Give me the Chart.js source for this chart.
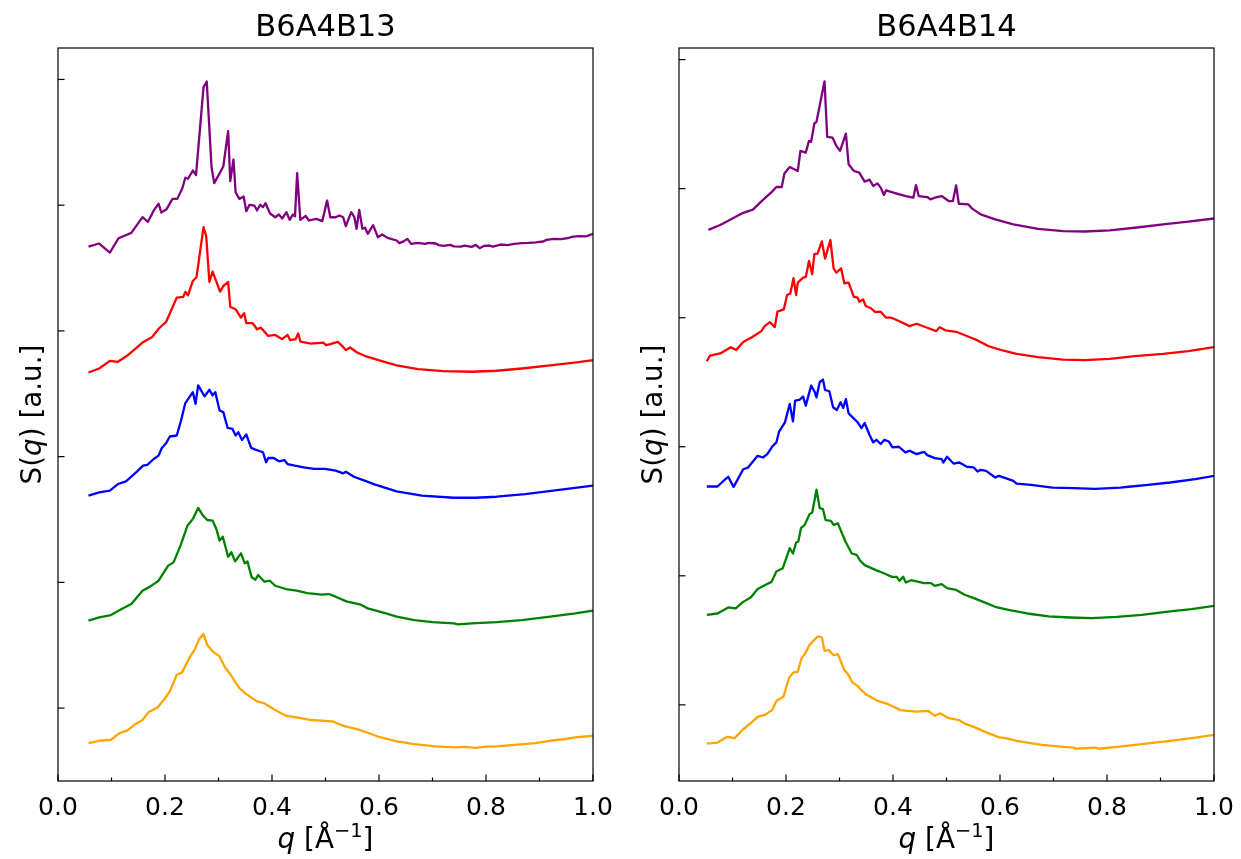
<!DOCTYPE html>
<html>
<head>
<meta charset="utf-8">
<title>S(q) – B6A4B13 / B6A4B14</title>
<script src="https://cdn.jsdelivr.net/npm/chart.js@4.4.1/dist/chart.umd.min.js"></script>
<style>
  html, body { margin: 0; padding: 0; background: #fff; }
  #wrap { position: relative; width: 1241px; height: 859px; overflow: hidden; }
  #wrap canvas { position: absolute; top: 0; }
  #left { left: 0; }
  #right { left: 620px; }
</style>
</head>
<body>
<div id="wrap">
  <canvas id="left" width="620" height="859"></canvas>
  <canvas id="right" width="621" height="859"></canvas>
</div>
<script>
// Stacked S(q) curves, each shifted up by one unit: [q, S(q) + offset]
// ---- B6A4B13 ----
const b13Orange = [[0.057,-0.279],[0.077,-0.260],[0.099,-0.252],[0.115,-0.199],[0.129,-0.180],[0.142,-0.135],[0.158,-0.095],[0.169,-0.034],[0.186,0.005],[0.199,0.072],[0.209,0.133],[0.222,0.265],[0.232,0.284],[0.246,0.403],[0.256,0.469],[0.264,0.549],[0.272,0.589],[0.279,0.501],[0.289,0.451],[0.302,0.411],[0.312,0.324],[0.322,0.271],[0.329,0.223],[0.339,0.159],[0.352,0.111],[0.372,0.053],[0.386,0.037],[0.406,-0.016],[0.426,-0.061],[0.446,-0.074],[0.473,-0.095],[0.513,-0.106],[0.533,-0.141],[0.559,-0.167],[0.579,-0.196],[0.599,-0.228],[0.633,-0.265],[0.666,-0.286],[0.706,-0.305],[0.740,-0.313],[0.760,-0.309],[0.780,-0.316],[0.800,-0.307],[0.820,-0.305],[0.853,-0.292],[0.893,-0.279],[0.920,-0.260],[0.945,-0.248],[0.967,-0.233],[1.0,-0.220]];
const b13Green = [[0.057,0.695],[0.077,0.721],[0.099,0.740],[0.119,0.788],[0.137,0.828],[0.158,0.934],[0.172,0.966],[0.188,1.013],[0.206,1.133],[0.216,1.159],[0.229,1.292],[0.242,1.451],[0.252,1.504],[0.262,1.592],[0.271,1.531],[0.279,1.496],[0.289,1.491],[0.296,1.424],[0.302,1.332],[0.308,1.363],[0.318,1.204],[0.324,1.239],[0.331,1.167],[0.342,1.231],[0.349,1.151],[0.354,1.167],[0.362,1.040],[0.369,1.021],[0.374,1.058],[0.386,1.005],[0.396,1.013],[0.406,0.973],[0.426,0.947],[0.446,0.934],[0.466,0.915],[0.493,0.902],[0.506,0.907],[0.519,0.886],[0.539,0.849],[0.566,0.822],[0.579,0.793],[0.613,0.753],[0.633,0.727],[0.666,0.700],[0.700,0.684],[0.740,0.674],[0.748,0.665],[0.773,0.674],[0.820,0.684],[0.867,0.700],[0.920,0.727],[0.967,0.753],[1.0,0.775]];
const b13Blue = [[0.057,1.689],[0.077,1.715],[0.097,1.729],[0.112,1.782],[0.127,1.803],[0.146,1.875],[0.159,1.928],[0.167,1.934],[0.179,1.981],[0.188,2.008],[0.194,2.069],[0.202,2.106],[0.209,2.160],[0.222,2.168],[0.230,2.287],[0.238,2.426],[0.252,2.513],[0.257,2.420],[0.262,2.566],[0.274,2.479],[0.283,2.532],[0.289,2.487],[0.294,2.513],[0.302,2.367],[0.309,2.354],[0.317,2.229],[0.326,2.221],[0.332,2.168],[0.337,2.194],[0.344,2.133],[0.352,2.176],[0.361,2.069],[0.369,2.056],[0.383,2.035],[0.389,1.955],[0.393,1.989],[0.403,1.989],[0.413,1.963],[0.423,1.973],[0.429,1.941],[0.443,1.928],[0.459,1.915],[0.479,1.902],[0.499,1.902],[0.519,1.888],[0.533,1.867],[0.538,1.880],[0.553,1.840],[0.573,1.809],[0.593,1.777],[0.633,1.723],[0.680,1.689],[0.740,1.673],[0.780,1.673],[0.820,1.681],[0.873,1.702],[0.933,1.734],[1.0,1.769]];
const b13Red = [[0.057,2.669],[0.077,2.701],[0.097,2.762],[0.112,2.754],[0.129,2.802],[0.158,2.907],[0.176,2.952],[0.189,3.021],[0.202,3.071],[0.209,3.138],[0.222,3.265],[0.234,3.270],[0.238,3.310],[0.243,3.283],[0.252,3.397],[0.259,3.429],[0.272,3.825],[0.277,3.754],[0.283,3.389],[0.289,3.471],[0.303,3.312],[0.309,3.357],[0.318,3.389],[0.322,3.190],[0.332,3.172],[0.342,3.106],[0.348,3.140],[0.352,3.061],[0.364,3.061],[0.372,3.013],[0.379,3.026],[0.393,2.960],[0.406,2.968],[0.419,2.934],[0.429,2.968],[0.434,2.926],[0.444,2.934],[0.449,2.979],[0.453,2.915],[0.473,2.899],[0.496,2.907],[0.501,2.886],[0.509,2.894],[0.523,2.913],[0.533,2.873],[0.538,2.847],[0.546,2.868],[0.559,2.828],[0.573,2.802],[0.599,2.767],[0.633,2.725],[0.673,2.696],[0.720,2.680],[0.773,2.675],[0.820,2.683],[0.867,2.701],[0.920,2.725],[0.973,2.751],[1.0,2.767]];
const b13Purple = [[0.057,3.671],[0.077,3.695],[0.097,3.623],[0.113,3.737],[0.137,3.780],[0.158,3.905],[0.168,3.867],[0.179,3.958],[0.188,4.011],[0.193,3.942],[0.203,3.968],[0.214,4.050],[0.223,4.050],[0.232,4.130],[0.238,4.218],[0.243,4.210],[0.252,4.276],[0.258,4.239],[0.272,4.939],[0.278,4.984],[0.287,4.302],[0.292,4.175],[0.309,4.308],[0.318,4.589],[0.322,4.191],[0.328,4.363],[0.332,4.103],[0.339,4.050],[0.347,4.069],[0.352,3.952],[0.358,4.003],[0.367,3.997],[0.372,3.958],[0.378,4.003],[0.383,3.984],[0.388,4.016],[0.396,3.936],[0.406,3.904],[0.413,3.926],[0.419,3.894],[0.427,3.944],[0.433,3.883],[0.439,3.926],[0.443,3.910],[0.447,4.255],[0.453,3.883],[0.463,3.915],[0.469,3.878],[0.483,3.891],[0.494,3.873],[0.503,4.037],[0.509,3.904],[0.519,3.904],[0.526,3.918],[0.533,3.904],[0.538,3.833],[0.548,3.944],[0.554,3.904],[0.558,3.812],[0.563,3.963],[0.569,3.812],[0.574,3.820],[0.579,3.772],[0.589,3.841],[0.598,3.745],[0.606,3.767],[0.616,3.740],[0.633,3.719],[0.638,3.698],[0.646,3.712],[0.653,3.732],[0.660,3.692],[0.673,3.700],[0.686,3.692],[0.693,3.700],[0.706,3.695],[0.712,3.682],[0.720,3.676],[0.733,3.684],[0.740,3.672],[0.753,3.671],[0.760,3.679],[0.773,3.668],[0.781,3.684],[0.788,3.658],[0.796,3.676],[0.806,3.679],[0.813,3.671],[0.827,3.687],[0.840,3.682],[0.853,3.692],[0.867,3.698],[0.880,3.700],[0.893,3.704],[0.907,3.711],[0.913,3.724],[0.927,3.732],[0.940,3.730],[0.953,3.737],[0.960,3.748],[0.973,3.753],[0.987,3.752],[1.0,3.772]];

// ---- B6A4B14 ----
const b14Orange = [[0.052,-0.300],[0.072,-0.292],[0.090,-0.248],[0.104,-0.258],[0.120,-0.189],[0.134,-0.142],[0.147,-0.093],[0.160,-0.078],[0.174,-0.041],[0.182,0.031],[0.195,0.062],[0.206,0.212],[0.214,0.251],[0.222,0.256],[0.229,0.362],[0.236,0.398],[0.244,0.465],[0.254,0.509],[0.260,0.530],[0.267,0.522],[0.272,0.419],[0.280,0.424],[0.289,0.385],[0.297,0.393],[0.309,0.269],[0.316,0.238],[0.324,0.173],[0.334,0.147],[0.341,0.114],[0.349,0.083],[0.371,0.031],[0.388,0.010],[0.404,-0.021],[0.414,-0.041],[0.428,-0.047],[0.444,-0.052],[0.466,-0.047],[0.478,-0.085],[0.488,-0.065],[0.504,-0.103],[0.524,-0.119],[0.534,-0.145],[0.551,-0.171],[0.571,-0.207],[0.591,-0.240],[0.598,-0.252],[0.611,-0.258],[0.631,-0.279],[0.678,-0.310],[0.718,-0.326],[0.738,-0.331],[0.740,-0.340],[0.778,-0.331],[0.785,-0.340],[0.832,-0.320],[0.865,-0.305],[0.918,-0.279],[0.958,-0.258],[1.0,-0.233]];
const b14Green = [[0.052,0.698],[0.072,0.708],[0.092,0.755],[0.106,0.747],[0.120,0.798],[0.134,0.832],[0.147,0.897],[0.162,0.930],[0.173,0.953],[0.182,1.034],[0.194,1.059],[0.207,1.214],[0.213,1.173],[0.219,1.258],[0.223,1.266],[0.228,1.370],[0.235,1.395],[0.244,1.478],[0.249,1.491],[0.257,1.667],[0.263,1.525],[0.269,1.517],[0.274,1.432],[0.284,1.426],[0.289,1.395],[0.297,1.406],[0.311,1.266],[0.323,1.173],[0.332,1.163],[0.338,1.121],[0.347,1.083],[0.368,1.044],[0.384,1.018],[0.398,0.992],[0.407,0.992],[0.412,0.961],[0.419,0.992],[0.424,0.948],[0.434,0.966],[0.458,0.943],[0.471,0.943],[0.478,0.922],[0.491,0.935],[0.501,0.904],[0.518,0.891],[0.534,0.853],[0.551,0.827],[0.564,0.806],[0.591,0.760],[0.618,0.734],[0.651,0.708],[0.691,0.685],[0.731,0.677],[0.772,0.672],[0.818,0.682],[0.865,0.698],[0.918,0.724],[0.958,0.742],[1.0,0.767]];
const b14Blue = [[0.052,1.692],[0.072,1.692],[0.082,1.731],[0.092,1.767],[0.102,1.689],[0.110,1.749],[0.120,1.826],[0.129,1.839],[0.147,1.930],[0.157,1.917],[0.165,1.943],[0.174,2.000],[0.182,2.034],[0.187,2.117],[0.198,2.189],[0.207,2.332],[0.213,2.197],[0.217,2.358],[0.225,2.363],[0.232,2.389],[0.237,2.319],[0.247,2.474],[0.254,2.422],[0.257,2.383],[0.263,2.500],[0.269,2.521],[0.273,2.440],[0.281,2.430],[0.288,2.306],[0.295,2.285],[0.302,2.345],[0.307,2.301],[0.312,2.370],[0.317,2.259],[0.334,2.189],[0.341,2.145],[0.347,2.184],[0.356,2.093],[0.363,2.034],[0.369,2.054],[0.377,2.021],[0.384,2.054],[0.392,2.041],[0.399,1.995],[0.411,2.000],[0.423,1.956],[0.431,1.969],[0.444,1.943],[0.458,1.961],[0.464,1.935],[0.478,1.912],[0.491,1.904],[0.494,1.878],[0.501,1.922],[0.513,1.870],[0.524,1.878],[0.538,1.845],[0.551,1.840],[0.558,1.808],[0.564,1.821],[0.574,1.813],[0.591,1.762],[0.598,1.774],[0.625,1.736],[0.631,1.715],[0.658,1.705],[0.698,1.684],[0.738,1.679],[0.778,1.674],[0.825,1.684],[0.845,1.692],[0.872,1.702],[0.918,1.723],[0.965,1.749],[1.0,1.775]];
const b14Red = [[0.052,2.663],[0.058,2.707],[0.077,2.723],[0.097,2.772],[0.107,2.749],[0.120,2.811],[0.137,2.850],[0.154,2.896],[0.160,2.935],[0.170,2.966],[0.179,2.927],[0.184,3.047],[0.196,3.065],[0.202,3.176],[0.208,3.187],[0.214,3.306],[0.219,3.176],[0.222,3.272],[0.232,3.311],[0.237,3.316],[0.243,3.440],[0.249,3.337],[0.253,3.492],[0.259,3.497],[0.267,3.591],[0.273,3.458],[0.283,3.601],[0.289,3.383],[0.294,3.350],[0.303,3.383],[0.309,3.267],[0.317,3.272],[0.327,3.161],[0.334,3.155],[0.337,3.124],[0.344,3.142],[0.349,3.091],[0.359,3.073],[0.367,3.044],[0.377,3.047],[0.387,3.000],[0.397,3.000],[0.411,2.974],[0.431,2.935],[0.444,2.953],[0.464,2.922],[0.481,2.896],[0.487,2.927],[0.498,2.902],[0.518,2.891],[0.538,2.858],[0.558,2.824],[0.578,2.780],[0.605,2.746],[0.631,2.720],[0.671,2.694],[0.718,2.676],[0.758,2.671],[0.805,2.681],[0.852,2.702],[0.905,2.720],[0.952,2.741],[1.0,2.772]];
const b14Purple = [[0.055,3.681],[0.077,3.718],[0.100,3.769],[0.120,3.813],[0.138,3.837],[0.158,3.917],[0.174,3.977],[0.182,4.013],[0.192,4.013],[0.197,4.117],[0.207,4.168],[0.222,4.137],[0.227,4.293],[0.237,4.280],[0.243,4.370],[0.247,4.363],[0.253,4.505],[0.257,4.518],[0.272,4.832],[0.277,4.402],[0.287,4.396],[0.294,4.332],[0.301,4.293],[0.312,4.427],[0.317,4.189],[0.327,4.137],[0.337,4.124],[0.347,4.054],[0.356,4.070],[0.363,4.021],[0.371,4.041],[0.377,4.008],[0.383,3.951],[0.387,3.987],[0.404,3.966],[0.424,3.943],[0.438,3.930],[0.443,4.028],[0.448,3.943],[0.464,3.935],[0.470,3.917],[0.478,3.930],[0.491,3.943],[0.504,3.904],[0.512,3.904],[0.518,4.026],[0.523,3.883],[0.541,3.878],[0.548,3.845],[0.564,3.801],[0.591,3.762],[0.625,3.723],[0.671,3.689],[0.718,3.671],[0.758,3.668],[0.805,3.676],[0.852,3.697],[0.905,3.723],[0.952,3.744],[1.0,3.769]];

const seriesColors = ['#ffa500', '#008000', '#0000ff', '#ff0000', '#800080'];
const qTicks = [0, 0.1, 0.2, 0.3, 0.4, 0.5, 0.6, 0.7, 0.8, 0.9, 1.0];

Chart.defaults.font.family = '"DejaVu Sans", sans-serif';
Chart.defaults.color = '#000';

// box round the plot + inward tick marks (matplotlib style)
const frameTicks = {
  id: 'frameTicks',
  afterDatasetsDraw(chart) {
    const { ctx, chartArea: a, scales: { x, y } } = chart;
    ctx.save();
    ctx.strokeStyle = '#000';
    ctx.lineWidth = 1.2;
    x.ticks.forEach(t => {
      const px = x.getPixelForValue(t.value);
      const major = Math.round(t.value * 10) % 2 === 0;
      ctx.beginPath();
      ctx.moveTo(px, a.bottom);
      ctx.lineTo(px, a.bottom - (major ? 6.5 : 3.5));
      ctx.stroke();
    });
    y.ticks.forEach(t => {
      if (!Number.isInteger(t.value)) return;
      const py = y.getPixelForValue(t.value);
      ctx.beginPath();
      ctx.moveTo(a.left, py);
      ctx.lineTo(a.left + 6.5, py);
      ctx.stroke();
    });
    ctx.strokeRect(a.left, a.top, a.right - a.left, a.bottom - a.top);
    ctx.restore();
  }
};

// axis labels with italic q and a superscript, like mathtext
function drawRich(ctx, parts, size) {
  const fonts = parts.map(p => (p.italic ? 'italic ' : '') + (p.sup ? size * 0.7 : size) + 'px "DejaVu Sans"');
  let w = 0;
  parts.forEach((p, i) => { ctx.font = fonts[i]; w += ctx.measureText(p.text).width; });
  let x = -w / 2;
  parts.forEach((p, i) => {
    ctx.font = fonts[i];
    ctx.fillText(p.text, x, p.sup ? -size * 0.4 : 0);
    x += ctx.measureText(p.text).width;
  });
}

const axisLabels = {
  id: 'axisLabels',
  afterDraw(chart) {
    const { ctx, chartArea: a } = chart;
    const size = 27.8;
    ctx.save();
    ctx.fillStyle = '#000';
    ctx.textBaseline = 'alphabetic';
    ctx.translate((a.left + a.right) / 2, a.bottom + 67);
    drawRich(ctx, [
      { text: 'q', italic: true },
      { text: ' [Å' },
      { text: '\u22121', sup: true },
      { text: ']' }
    ], size);
    ctx.restore();

    ctx.save();
    ctx.fillStyle = '#000';
    ctx.textBaseline = 'alphabetic';
    ctx.translate(a.left - 17, (a.top + a.bottom) / 2);
    ctx.rotate(-Math.PI / 2);
    drawRich(ctx, [
      { text: 'S(' },
      { text: 'q', italic: true },
      { text: ') [a.u.]' }
    ], size);
    ctx.restore();
  }
};

function toPoints(pairs) {
  return pairs.map(([q, s]) => ({ x: q, y: s }));
}

function chartPanel(canvasId, title, curves, yMin, yMax, axisWidth) {
  const ctx = document.getElementById(canvasId).getContext('2d');
  return new Chart(ctx, {
    type: 'line',
    data: {
      datasets: curves.map((c, i) => ({
        data: toPoints(c),
        borderColor: seriesColors[i],
        borderWidth: 2.3,
        pointRadius: 0,
        tension: 0,
        fill: false,
        borderJoinStyle: 'round'
      }))
    },
    options: {
      responsive: false,
      animation: false,
      layout: { padding: { left: 0, right: 27, top: 0, bottom: 0 } },
      plugins: {
        legend: { display: false },
        tooltip: { enabled: false },
        title: {
          display: true,
          text: title,
          fullSize: false,
          font: { size: 30.5, weight: 'normal' },
          padding: { top: 10, bottom: 1.4 }
        }
      },
      scales: {
        x: {
          type: 'linear',
          min: 0,
          max: 1,
          afterBuildTicks: scale => { scale.ticks = qTicks.map(v => ({ value: v })); },
          ticks: {
            autoSkip: false,
            maxRotation: 0,
            padding: 4,
            font: { size: 25 },
            callback: v => (Math.round(v * 10) % 2 === 0 ? v.toFixed(1) : '')
          },
          grid: { display: false },
          border: { display: false },
          afterFit: scale => { scale.height = 78; }
        },
        y: {
          min: yMin,
          max: yMax,
          ticks: { display: false, stepSize: 1, includeBounds: false },
          grid: { display: false },
          border: { display: false },
          afterFit: scale => { scale.width = axisWidth; }
        }
      }
    },
    plugins: [frameTicks, axisLabels]
  });
}

chartPanel('left', 'B6A4B13', [b13Orange, b13Green, b13Blue, b13Red, b13Purple], -0.58, 5.25, 58);
chartPanel('right', 'B6A4B14', [b14Orange, b14Green, b14Blue, b14Red, b14Purple], -0.59, 5.09, 59);
</script>
</body>
</html>
